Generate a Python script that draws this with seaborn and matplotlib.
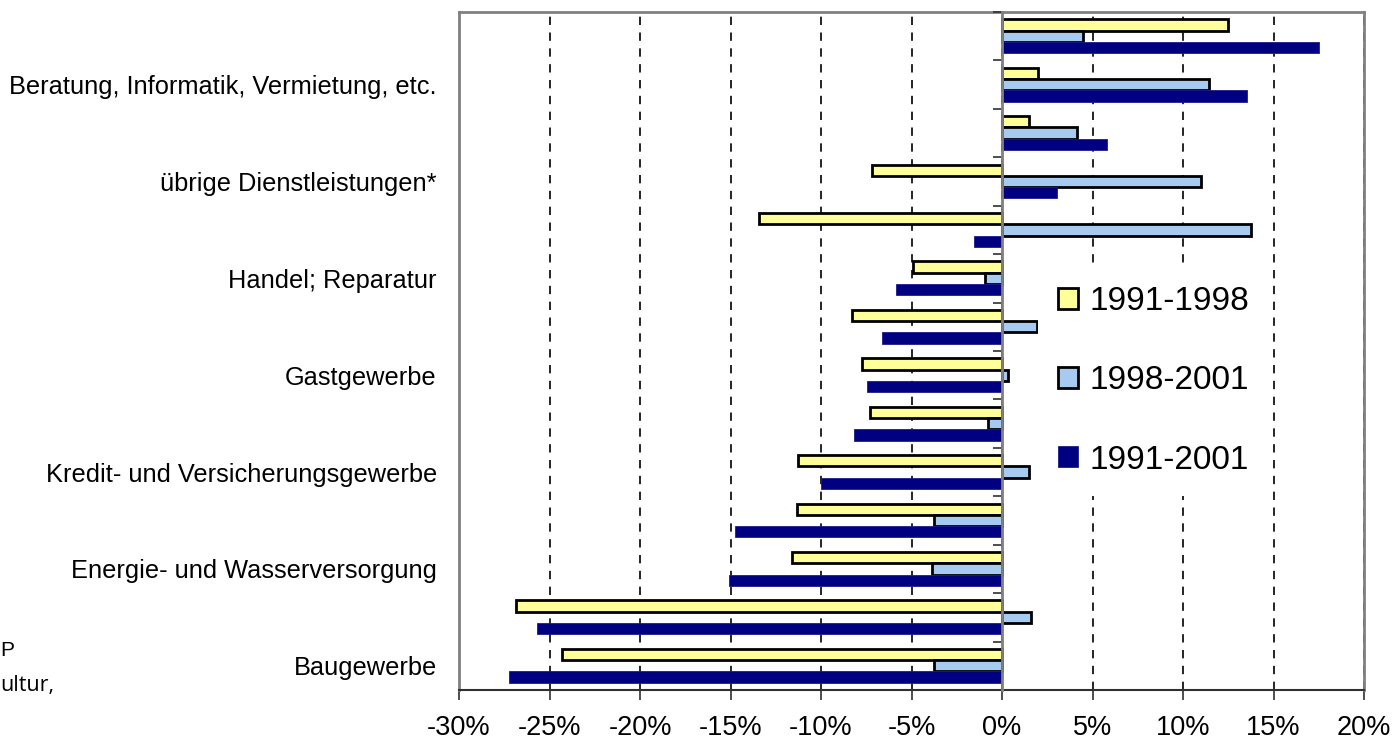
import numpy as np
import pandas as pd
import matplotlib
matplotlib.use("Agg")
import matplotlib.pyplot as plt
import seaborn as sns

# Branchen von oben nach unten (nur jede zweite Beschriftung wird angezeigt)
categories = [
    "Gesundheits- und Sozialwesen",
    "Beratung, Informatik, Vermietung, etc.",
    "Unterrichtswesen",
    "übrige Dienstleistungen*",
    "Öffentliche Verwaltung",
    "Handel; Reparatur",
    "Verkehr und Nachrichtenübermittlung",
    "Gastgewerbe",
    "Industrie; verarbeitendes Gewerbe",
    "Kredit- und Versicherungsgewerbe",
    "Bergbau",
    "Energie- und Wasserversorgung",
    "Land- und Forstwirtschaft",
    "Baugewerbe",
]
periods = ["1991-1998", "1998-2001", "1991-2001"]

# Veränderung in %
val_1991_1998 = [12.5, 2.0, 1.5, -7.2, -13.4, -4.9, -8.3, -7.75, -7.3, -11.25, -11.35, -11.6, -26.85, -24.3]
val_1998_2001 = [4.5, 11.45, 4.15, 11.0, 13.75, -0.95, 1.95, 0.35, -0.8, 1.5, -3.75, -3.85, 1.6, -3.75]
val_1991_2001 = [17.5, 13.55, 5.8, 3.05, -1.55, -5.85, -6.65, -7.45, -8.15, -10.0, -14.75, -15.1, -25.7, -27.25]

colors = ["#FFFF99", "#A6CAF0", "#000080"]
edges = ["black", "black", "#1c1c8a"]
edge_widths = [2.0, 2.0, 0.6]

df = pd.DataFrame({
    "Branche": categories * 3,
    "Periode": [p for p in periods for _ in categories],
    "Wert": val_1991_1998 + val_1998_2001 + val_1991_2001,
})

sns.set_style("white")
plt.rcParams["font.family"] = ["Liberation Sans", "DejaVu Sans"]
plt.rcParams["text.color"] = "black"
plt.rcParams["xtick.color"] = "black"
plt.rcParams["ytick.color"] = "black"

W, H = 1393, 742
fig = plt.figure(figsize=(W / 100, H / 100), dpi=100)
ax = fig.add_axes([459 / W, 52 / H, 905 / W, 678 / H])

sns.barplot(data=df, y="Branche", x="Wert", hue="Periode", order=categories,
            hue_order=periods, palette=colors, orient="h", width=0.7,
            saturation=1, legend=False, ax=ax)

for cont, ec, lw in zip(ax.containers, edges, edge_widths):
    for bar in cont:
        bar.set_edgecolor(ec)
        bar.set_linewidth(lw)

ax.set_xlim(-30, 20)
ax.set_ylim(len(categories) - 0.5, -0.5)
xticks = np.arange(-30, 21, 5)
ax.set_xticks(xticks)
ax.set_xticklabels([f"{t}%" for t in xticks])
ax.set_yticks(range(len(categories)))
ax.set_yticklabels([c if i % 2 == 1 else "" for i, c in enumerate(categories)])
ax.set_xlabel("")
ax.set_ylabel("")

ax.grid(axis="x", color="black", linestyle=(0, (5, 4.5)), linewidth=1.2)
ax.grid(axis="y", visible=False)
ax.set_axisbelow(True)

for s in ["top", "left", "right"]:
    ax.spines[s].set_color("#808080")
    ax.spines[s].set_linewidth(2)
ax.spines["bottom"].set_color("#303030")
ax.spines["bottom"].set_linewidth(1.5)

ax.tick_params(axis="x", direction="out", length=7, width=1.2, color="#303030",
               labelsize=19.5, pad=11, bottom=True, labelcolor="black")
ax.tick_params(axis="y", length=0, labelsize=18.3, pad=16, labelcolor="black")

# Nulllinie mit Teilstrichen zwischen den Gruppen
twin = ax.twinx()
twin.set_ylim(ax.get_ylim())
twin.yaxis.tick_left()
for s in ["top", "bottom", "right"]:
    twin.spines[s].set_visible(False)
twin.spines["left"].set_position(("data", 0))
twin.spines["left"].set_color("#808080")
twin.spines["left"].set_linewidth(2)
twin.set_yticks(np.arange(-0.5, len(categories), 1))
twin.set_yticklabels([])
twin.tick_params(axis="y", direction="out", length=6.5, width=1.2, color="#303030")

handles = [c.patches[0] for c in ax.containers]
ax.legend(handles, periods, loc="center", bbox_to_anchor=(0.768, 0.456),
          fontsize=24, frameon=True, facecolor="white", edgecolor="none",
          framealpha=1, fancybox=False, handlelength=0.6, handleheight=0.6,
          handletextpad=0.35, labelspacing=1.45, borderpad=0.6,
          labelcolor="black")

# Reste der Fussnote am linken Rand
fig.text(0, 1 - 650 / H, "P", fontsize=15, va="center", ha="left")
fig.text(0, 1 - 686 / H, "ultur,", fontsize=15.5, va="center", ha="left",
         family=["Open Sans", "DejaVu Sans"])

fig.savefig("out.png", dpi=100)
